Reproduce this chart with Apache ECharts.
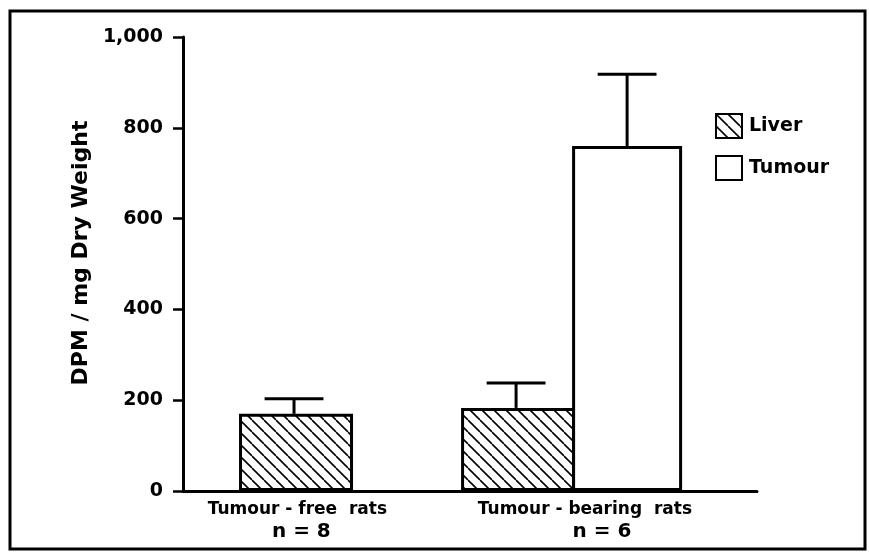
<!DOCTYPE html>
<html>
<head>
<meta charset="utf-8">
<script src="https://cdn.jsdelivr.net/npm/echarts@6/dist/echarts.min.js"></script>
<style>
  html, body { margin: 0; padding: 0; background: #fff; }
  #chart { width: 869px; height: 552px; }
</style>
</head>
<body>
<div id="chart"></div>
<script>
// values
const groups = ['Tumour - free  rats', 'Tumour - bearing  rats']
const nRats = [8, 6]
const liver = [170, 183]
const liverTop = [203, 238]   // mean + error
const tumour = [null, 760]
const tumourTop = [null, 918]
const yTicks = [0, 200, 400, 600, 800, 1000]

// layout: one x unit = one bar width
const groupPos = [1, 3.5]
const labelPos = [1.03, 3.62]
const FONT = 'DejaVu Sans'

// diagonal hatching "\\\" like the print
function hatch(){
  const c = document.createElement('canvas')
  c.width = 12; c.height = 12
  const ctx = c.getContext('2d')
  ctx.fillStyle = '#fff'
  ctx.fillRect(0, 0, 12, 12)
  ctx.strokeStyle = '#000'
  ctx.lineWidth = 1.6
  for (const k of [-12, 0, 12]) {
    ctx.beginPath()
    ctx.moveTo(k, 0)
    ctx.lineTo(k + 12, 12)
    ctx.stroke()
  }
  return c
}

const liverData = [], tumourData = [], errData = []
groups.forEach((g, i) => {
  const hasT = tumour[i] != null
  const lx = hasT ? groupPos[i] - 0.5 : groupPos[i]
  liverData.push([lx, liver[i]])
  errData.push([lx, liver[i], liverTop[i]])
  if (hasT) {
    tumourData.push([groupPos[i] + 0.5, tumour[i]])
    errData.push([groupPos[i] + 0.5, tumour[i], tumourTop[i]])
  }
})

const lbl = { fontFamily: FONT, fontSize: 18, fontWeight: 'bold', color: '#000', lineHeight: 22 }

const chart = echarts.init(document.getElementById('chart'))
chart.setOption({
  animation: false,
  backgroundColor: '#fff',
  textStyle: { fontFamily: FONT, color: '#000' },
  graphic: [{
    type: 'rect',
    shape: { x: 10, y: 11, width: 855, height: 538 },
    style: { fill: 'none', stroke: '#000', lineWidth: 3 },
    silent: true
  }],
  legend: {
    data: ['Liver', 'Tumour'],
    orient: 'vertical',
    left: 715,
    top: 113,
    padding: 0,
    icon: 'rect',
    itemWidth: 26,
    itemHeight: 24,
    itemGap: 16,
    textStyle: { fontFamily: FONT, fontSize: 19, fontWeight: 'bold', color: '#000', padding: [0, 0, 0, 2] }
  },
  grid: { left: 183, right: 112, top: 37, bottom: 61 },
  xAxis: {
    type: 'value',
    min: 0,
    max: 5.17,
    splitLine: { show: false },
    axisTick: { show: false },
    axisLine: { show: true, lineStyle: { color: '#000', width: 3 } },
    axisLabel: {
      customValues: labelPos,
      margin: 8,
      formatter: v => {
        const i = labelPos.indexOf(v)
        return i < 0 ? '' : '{a|' + groups[i] + '}\n{b' + i + '|n = ' + nRats[i] + '}'
      },
      rich: {
        a: Object.assign({}, lbl, { fontSize: 17 }),
        b0: Object.assign({}, lbl, { fontSize: 20, padding: [0, 0, 0, 8] }),
        b1: Object.assign({}, lbl, { fontSize: 20, padding: [0, 0, 0, 34] })
      }
    }
  },
  yAxis: {
    type: 'value',
    min: 0,
    max: 1000,
    interval: 200,
    name: 'DPM / mg Dry Weight',
    nameLocation: 'middle',
    nameRotate: 90,
    nameGap: 86,
    nameTextStyle: { fontFamily: FONT, fontSize: 22, fontWeight: 'bold', color: '#000', padding: [0, 0, 0, 22] },
    splitLine: { show: false },
    axisLine: { show: true, lineStyle: { color: '#000', width: 3 } },
    axisTick: { show: true, length: 10, lineStyle: { color: '#000', width: 2.5 } },
    axisLabel: {
      margin: 20,
      fontFamily: FONT, fontSize: 19, fontWeight: 'bold', color: '#000',
      formatter: v => yTicks.includes(v) ? v.toLocaleString('en-US') : ''
    }
  },
  series: [
    {
      name: 'Liver',
      type: 'bar',
      barWidth: 114,
      data: liverData,
      itemStyle: { color: { image: hatch(), repeat: 'repeat' }, borderColor: '#000', borderWidth: 3 }
    },
    {
      name: 'Tumour',
      type: 'bar',
      barWidth: 110,
      barGap: '-100%',
      data: tumourData,
      itemStyle: { color: '#fff', borderColor: '#000', borderWidth: 3 }
    },
    {
      name: 'SEM',
      type: 'custom',
      z: 5,
      data: errData,
      renderItem: (params, api) => {
        const x = api.value(0)
        const p0 = api.coord([x, api.value(1)])
        const p1 = api.coord([x, api.value(2)])
        const half = api.size([0.265, 0])[0]
        const st = { stroke: '#000', lineWidth: 3 }
        return {
          type: 'group',
          children: [
            { type: 'line', shape: { x1: p0[0], y1: p0[1], x2: p1[0], y2: p1[1] }, style: st },
            { type: 'line', shape: { x1: p1[0] - half, y1: p1[1], x2: p1[0] + half, y2: p1[1] }, style: st }
          ]
        }
      }
    }
  ]
})
</script>
</body>
</html>
